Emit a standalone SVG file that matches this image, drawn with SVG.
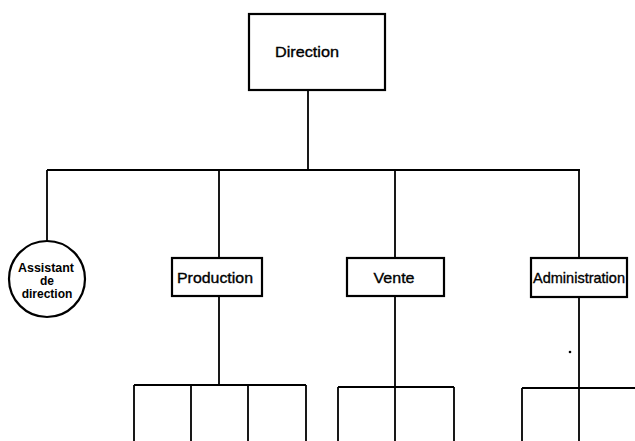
<svg xmlns="http://www.w3.org/2000/svg" width="635" height="441" viewBox="0 0 635 441">
<style>
.box{fill:#fff;stroke:#000;stroke-width:2.2}
.ln{fill:none;stroke:#000;stroke-width:1.8}
.t{font-family:"Liberation Sans",Arial,sans-serif;font-size:15px;fill:#000;stroke:#000;stroke-width:0.35;text-anchor:middle}
.s{font-family:"Liberation Sans",Arial,sans-serif;font-size:12px;font-weight:bold;fill:#000;text-anchor:middle}
</style>
<rect width="635" height="441" fill="#fff"/>
<g id="connectors" class="ln">
<path d="M308 89V170M47 170H580M47 170V241M219 170V258M395 170V258M579 170V258"/>
<path d="M219 296V385M134 385H306M134 385V441M191 385V441M248 385V441M306 385V441"/>
<path d="M395 296V441M338 387H454M338 387V441M454 387V441"/>
<path d="M579 297V441M522 388H635M522 388V441"/>
</g>
<circle cx="570" cy="352" r="1.3" fill="#000"/>
<g id="direction"><rect class="box" x="249" y="14" width="136" height="76"/><text class="t" x="307" y="57" textLength="64" lengthAdjust="spacingAndGlyphs">Direction</text></g>
<g id="assistant"><circle class="box" cx="47" cy="279" r="38"/><text class="s" x="46" y="272" textLength="56" lengthAdjust="spacingAndGlyphs">Assistant</text><text class="s" x="47" y="285">de</text><text class="s" x="47" y="298">direction</text></g>
<g id="production"><rect class="box" x="172" y="258" width="90" height="38"/><text class="t" x="215" y="283" textLength="76" lengthAdjust="spacingAndGlyphs">Production</text></g>
<g id="vente"><rect class="box" x="347" y="258" width="97" height="38"/><text class="t" x="394" y="283" textLength="41" lengthAdjust="spacingAndGlyphs">Vente</text></g>
<g id="administration"><rect class="box" x="531" y="258" width="96" height="39"/><text class="t" x="579" y="283" textLength="92" lengthAdjust="spacingAndGlyphs">Administration</text></g>
</svg>
